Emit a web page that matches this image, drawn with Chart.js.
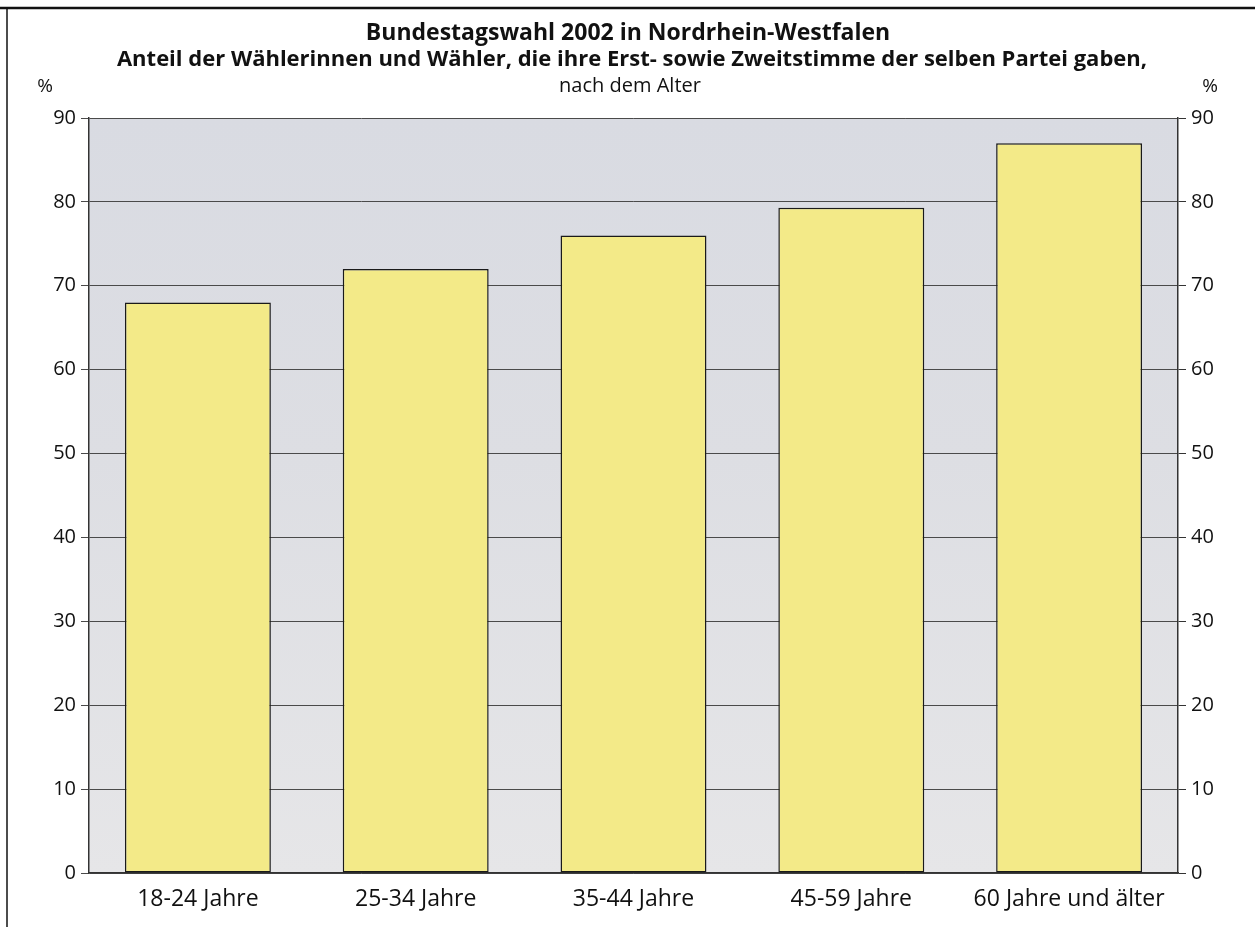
<!DOCTYPE html>
<html lang="de">
<head>
  <meta charset="UTF-8">
  <title>Bundestagswahl 2002 NRW</title>
  <script src="https://cdn.jsdelivr.net/npm/chart.js"></script>
  <style>
    body {
      margin: 0;
      background: white;
      font-family: 'Open Sans', sans-serif;
    }
    #wrap {
      position: relative;
      width: 1255px;
      height: 927px;
    }
  </style>
</head>
<body>
  <div id="wrap"><canvas id="chart"></canvas></div>

  <script>
    const altersgruppen = ['18-24 Jahre', '25-34 Jahre', '35-44 Jahre', '45-59 Jahre', '60 Jahre und älter'];
    const anteil = [68, 72, 76, 79.3, 87];
    const titelZeilen = [
      'Bundestagswahl 2002 in Nordrhein-Westfalen',
      'Anteil der Wählerinnen und Wähler, die ihre Erst- sowie Zweitstimme der selben Partei gaben,'
    ];
    const untertitel = 'nach dem Alter';

    const schrift = "'Open Sans', sans-serif";

    // Hintergrund der Zeichenfläche, Rahmen, Titel und %-Zeichen
    const rahmenPlugin = {
      id: 'rahmen',
      beforeDraw(chart) {
        const { ctx, chartArea: a } = chart;
        ctx.save();
        const g = ctx.createLinearGradient(0, a.top, 0, a.bottom);
        g.addColorStop(0, '#d9dbe2');
        g.addColorStop(0.45, '#dddee3');
        g.addColorStop(1, '#e6e6e8');
        ctx.fillStyle = g;
        ctx.fillRect(a.left, a.top, a.right - a.left, a.bottom - a.top);
        ctx.restore();
      },
      afterDraw(chart) {
        const { ctx } = chart;
        ctx.save();
        ctx.strokeStyle = '#111';
        ctx.lineWidth = 2.5;
        ctx.beginPath();
        ctx.moveTo(0, 8);
        ctx.lineTo(1255, 8);
        ctx.stroke();
        ctx.lineWidth = 1.5;
        ctx.beginPath();
        ctx.moveTo(7, 8);
        ctx.lineTo(7, 927);
        ctx.stroke();

        ctx.fillStyle = '#111';
        ctx.textAlign = 'center';
        ctx.textBaseline = 'middle';
        ctx.font = 'bold 23px ' + schrift;
        ctx.fillText(titelZeilen[0], 628, 33);
        ctx.font = 'bold 22px ' + schrift;
        ctx.fillText(titelZeilen[1], 632, 60);
        ctx.font = '20px ' + schrift;
        ctx.fillText(untertitel, 630, 86);
        ctx.font = '19px ' + schrift;
        ctx.fillText('%', 45, 87);
        ctx.fillText('%', 1210, 87);
        ctx.restore();
      }
    };

    new Chart(document.getElementById('chart'), {
      type: 'bar',
      data: {
        labels: altersgruppen,
        datasets: [{
          data: anteil,
          backgroundColor: '#f3ea88',
          borderColor: '#1a1a1a',
          borderWidth: 1.5,
          borderSkipped: false,
          barPercentage: 0.67,
          categoryPercentage: 1
        }]
      },
      options: {
        responsive: true,
        maintainAspectRatio: false,
        animation: false,
        layout: { padding: { top: 118, bottom: 0, left: 0, right: 0 } },
        plugins: {
          legend: { display: false },
          tooltip: { enabled: false }
        },
        scales: {
          x: {
            grid: { display: false },
            border: { color: '#333', width: 1.5 },
            ticks: { color: '#111', font: { family: schrift, size: 23 }, padding: 5 },
            afterFit(s) { s.height = 54; }
          },
          y: {
            position: 'left',
            min: 0,
            max: 90,
            ticks: { stepSize: 10, color: '#111', font: { family: schrift, size: 20 }, padding: 5 },
            grid: { color: '#4a4a4a', lineWidth: 1, tickLength: 8 },
            border: { color: '#333', width: 1.5 },
            afterFit(s) { s.width = 89; }
          },
          y2: {
            position: 'right',
            min: 0,
            max: 90,
            ticks: { stepSize: 10, color: '#111', font: { family: schrift, size: 20 }, padding: 5 },
            grid: { drawOnChartArea: false, color: '#333', tickLength: 8 },
            border: { color: '#333', width: 1.5 },
            afterFit(s) { s.width = 77; }
          }
        }
      },
      plugins: [rahmenPlugin]
    });
  </script>
</body>
</html>
